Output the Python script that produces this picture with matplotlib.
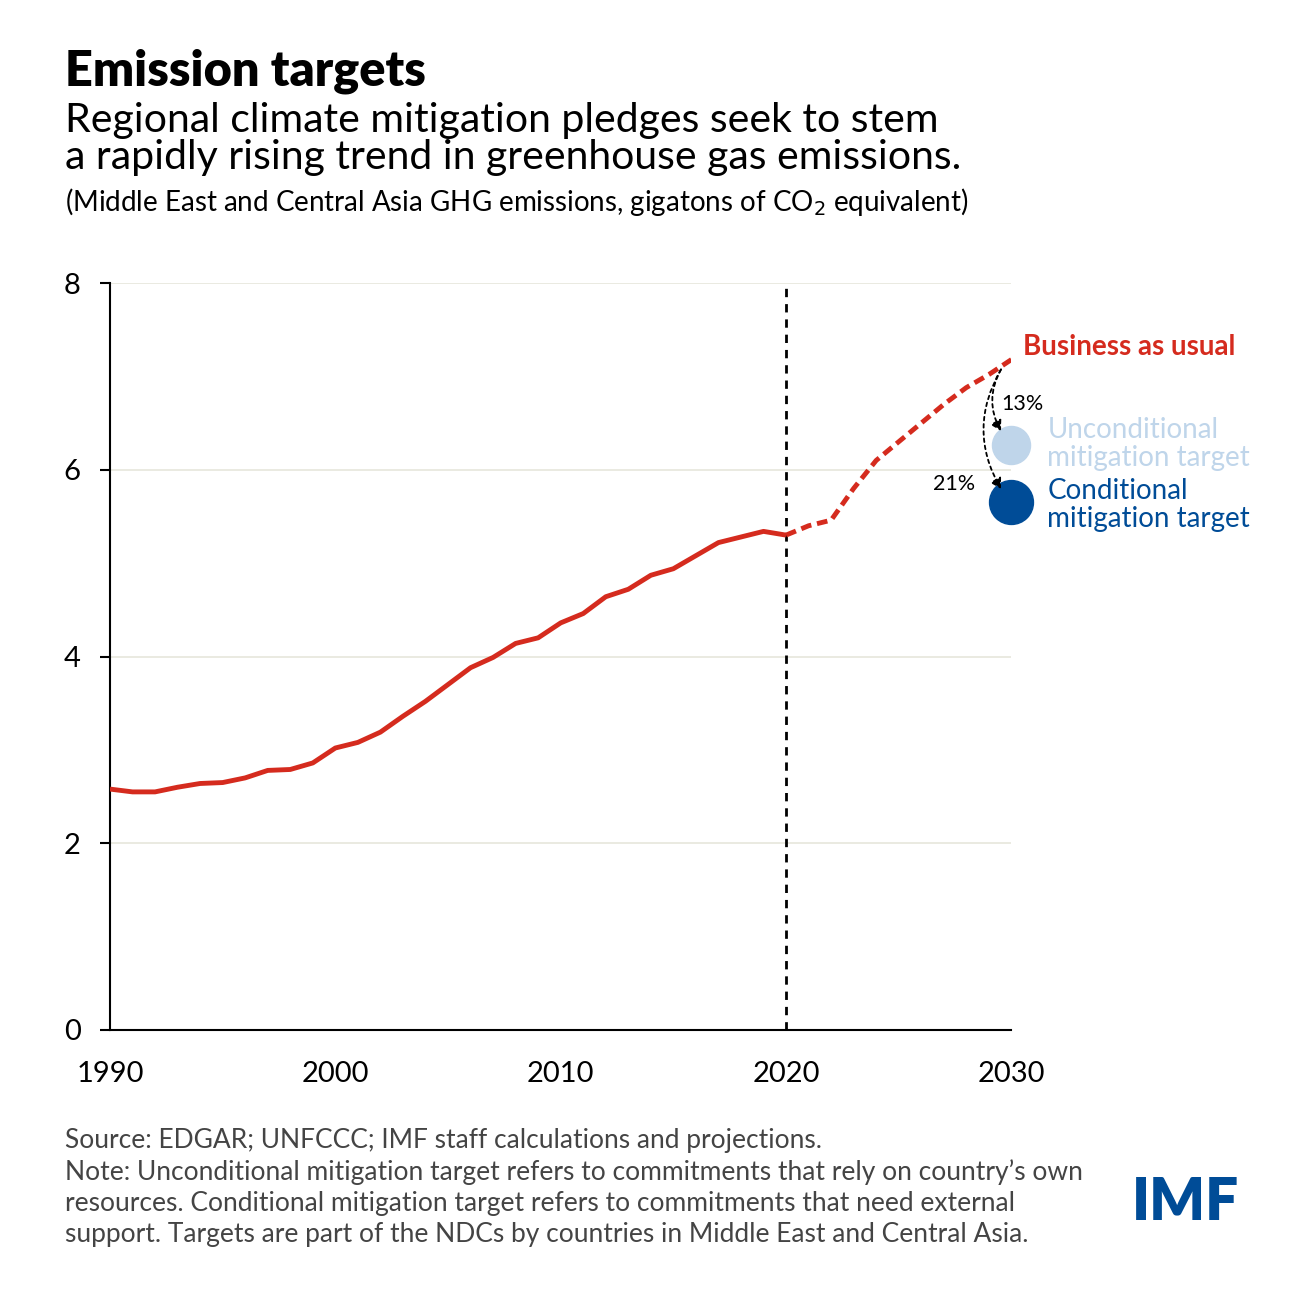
import matplotlib
matplotlib.use("Agg")
import matplotlib.pyplot as plt
from matplotlib.patches import FancyArrowPatch

plt.rcParams['font.family'] = ['Lato', 'DejaVu Sans']

hist_years = list(range(1990, 2021))
hist_vals = [2.58, 2.55, 2.55, 2.60, 2.64, 2.65, 2.70, 2.78, 2.79, 2.86, 3.02, 3.08, 3.19, 3.36,
             3.52, 3.70, 3.88, 3.99, 4.14, 4.20, 4.36, 4.46, 4.64, 4.72, 4.87, 4.94, 5.08, 5.22,
             5.28, 5.34, 5.30]
proj_years = list(range(2020, 2031))
proj_vals = [5.30, 5.40, 5.46, 5.80, 6.10, 6.30, 6.50, 6.70, 6.88, 7.02, 7.18]
target_year = 2030
uncond_val = 6.27
cond_val = 5.65
yticks = [0, 2, 4, 6, 8]
xticks = [1990, 2000, 2010, 2020, 2030]

red = '#d52b1e'
lightblue = '#bfd5ea'
darkblue = '#004c97'

fig = plt.figure(figsize=(13, 13), dpi=100)
ax = fig.add_axes([0.0846, 0.2077, 0.6934, 0.5746])
ax.set_xlim(1990, 2030)
ax.set_ylim(0, 8)
for y in yticks[1:]:
    ax.axhline(y, color='#e6e6dc', lw=1.2, zorder=0)
ax.plot(hist_years, hist_vals, color=red, lw=3.5, solid_capstyle='butt', zorder=3)
ax.plot(proj_years, proj_vals, color=red, lw=3.5, ls=(0, (2.2, 1.2)), zorder=3)
ax.axvline(2020, color='black', lw=2, ls=(0, (3, 2.5)), zorder=2)
ax.scatter([target_year], [uncond_val], s=750, color=lightblue, zorder=4, clip_on=False)
ax.scatter([target_year], [cond_val], s=1000, color=darkblue, zorder=4, clip_on=False)

for tgt in [uncond_val, cond_val]:
    a = FancyArrowPatch((2029.6, 7.1), (2029.6, tgt + 0.12),
                        connectionstyle='arc3,rad=0.3', arrowstyle='-|>,head_length=6,head_width=3.5',
                        ls=(0, (2, 2)), color='black', lw=1.3, zorder=5, clip_on=False)
    ax.add_patch(a)
ax.text(2029.55, 6.7, '13%', fontsize=15.5, ha='left', va='center')
ax.text(2028.4, 5.85, '21%', fontsize=15.5, ha='right', va='center')

ax.text(2030.5, 7.18, 'Business as usual', color=red, fontsize=20, fontweight='bold', ha='left', va='bottom')
ax.text(2031.6, 6.28, 'Unconditional\nmitigation target', color=lightblue, fontsize=20, ha='left', va='center', linespacing=1.1)
ax.text(2031.6, 5.62, 'Conditional\nmitigation target', color=darkblue, fontsize=20, ha='left', va='center', linespacing=1.1)

for s in ['top', 'right']:
    ax.spines[s].set_visible(False)
for s in ['left', 'bottom']:
    ax.spines[s].set_linewidth(1.5)
ax.set_yticks(yticks)
ax.set_xticks(xticks)
ax.tick_params(axis='y', labelsize=21, length=7, width=1.5, pad=14)
ax.tick_params(axis='x', labelsize=21, length=0, pad=22)

fig.text(0.05, 0.945, 'Emission targets', fontsize=35, fontweight='heavy', va='center')
fig.text(0.05, 0.893, 'Regional climate mitigation pledges seek to stem\na rapidly rising trend in greenhouse gas emissions.',
         fontsize=29.5, va='center', linespacing=1.0)
fig.text(0.05, 0.845, '(Middle East and Central Asia GHG emissions, gigatons of CO$_2$ equivalent)', fontsize=20, va='center')
fig.text(0.05, 0.0865, "Source: EDGAR; UNFCCC; IMF staff calculations and projections.\n"
         "Note: Unconditional mitigation target refers to commitments that rely on country\u2019s own\n"
         "resources. Conditional mitigation target refers to commitments that need external\n"
         "support. Targets are part of the NDCs by countries in Middle East and Central Asia.",
         fontsize=19, color='#444444', va='center', linespacing=1.3)
fig.text(0.953, 0.075, 'IMF', fontsize=42, fontweight='heavy', color=darkblue, ha='right', va='center')

fig.savefig('out.png', dpi=100, facecolor='white')
